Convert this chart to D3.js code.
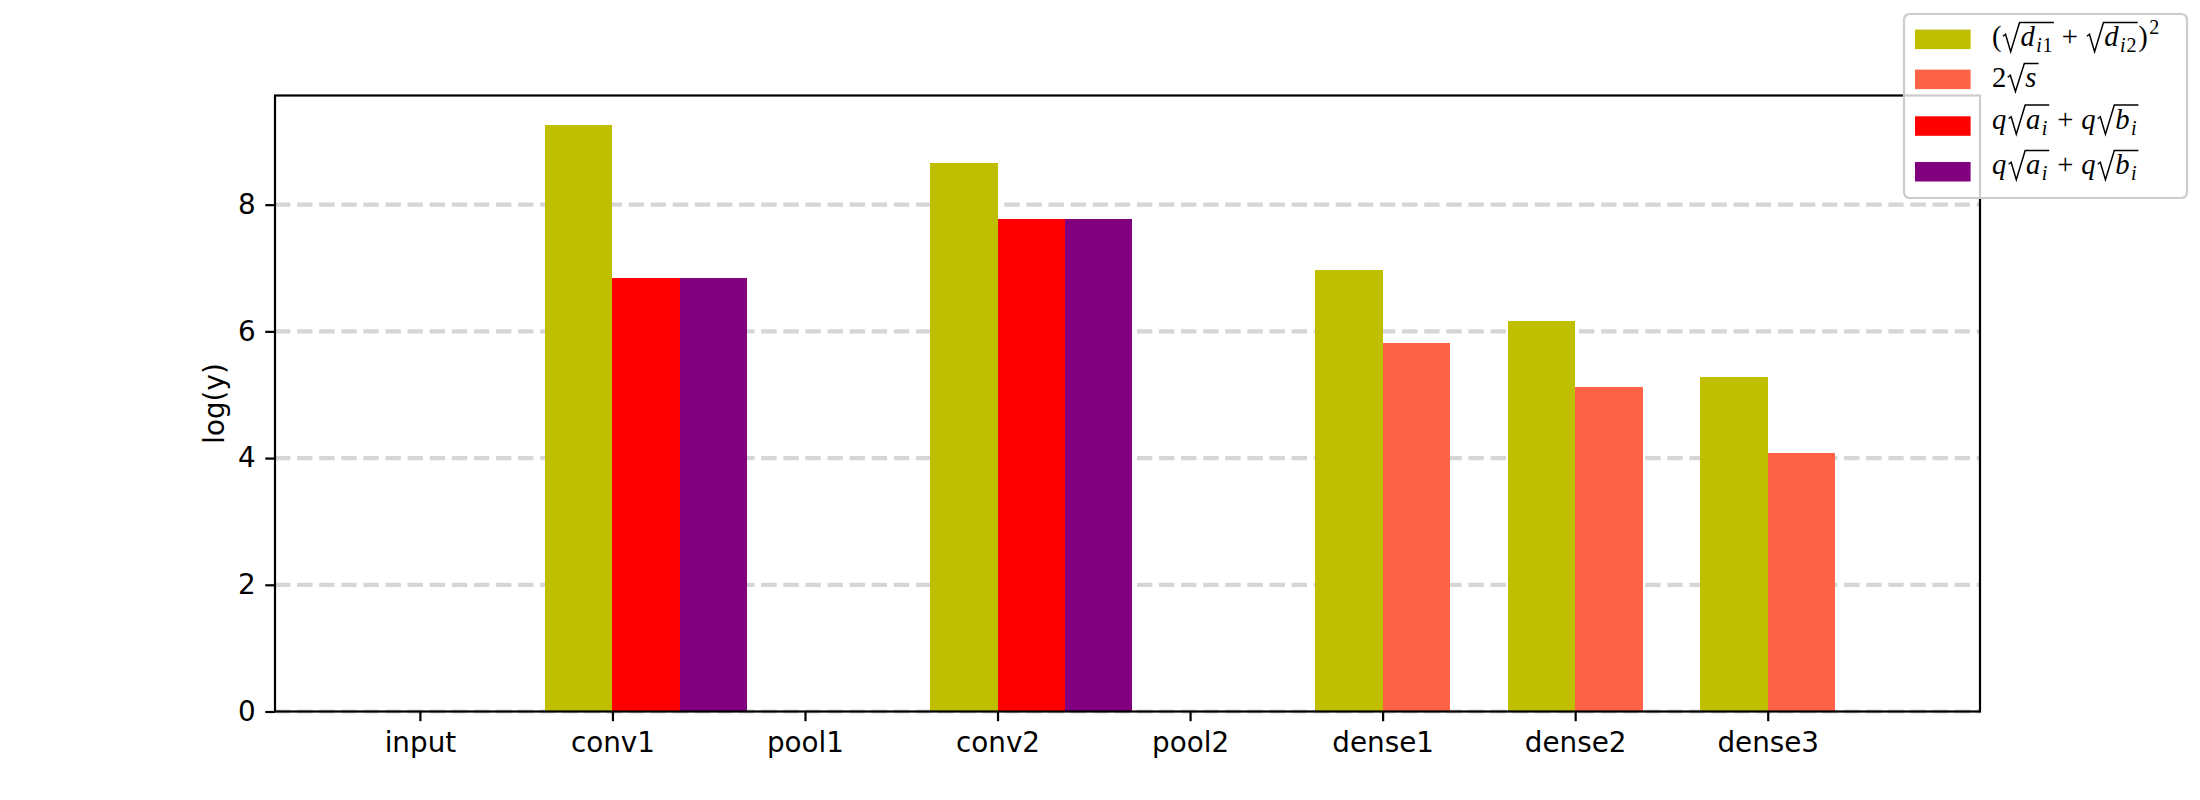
<!DOCTYPE html>
<html>
<head>
<meta charset="utf-8">
<script src="https://cdn.jsdelivr.net/npm/d3@7"></script>
<style>
  html, body { margin: 0; padding: 0; background: #ffffff; }
  svg { display: block; }
</style>
</head>
<body>
<svg id="chart" width="2200" height="800"></svg>
<script>
// ---------------- data ----------------
const categories = ["input", "conv1", "pool1", "conv2", "pool2", "dense1", "dense2", "dense3"];
const seriesSumSqrtD = [0, 9.26, 0, 8.66, 0, 6.97, 6.16, 5.28];   // (sqrt(d_i1)+sqrt(d_i2))^2
const seriesTwoSqrtS = [0, 0, 0, 0, 0, 5.81, 5.12, 4.08];         // 2 sqrt(s)
const seriesQSqrtAB1 = [0, 6.85, 0, 7.77, 0, 0, 0, 0];            // q sqrt(a_i)+q sqrt(b_i)
const seriesQSqrtAB2 = [0, 6.85, 0, 7.77, 0, 0, 0, 0];            // q sqrt(a_i)+q sqrt(b_i)
const yTickValues = [0, 2, 4, 6, 8];
const yAxisLabel = "log(y)";

// ---------------- styles / layout ----------------
const W = 2200, H = 800;
const plotLeft = 275, plotRight = 1980, plotTop = 95.5, plotBottom = 711.5;
const fontSize = 27.8;
const mathSize = 28.6;
const barWidth = 0.35;
const seriesDefs = [
  { values: seriesSumSqrtD, color: "#bfbf00", offset: -barWidth },
  { values: seriesTwoSqrtS, color: "#ff6347", offset: 0 },
  { values: seriesQSqrtAB1, color: "#ff0000", offset: 0 },
  { values: seriesQSqrtAB2, color: "#800080", offset: barWidth }
];

const svg = d3.select("#chart");
svg.append("rect").attr("width", W).attr("height", H).attr("fill", "#ffffff");

// x extent like matplotlib autoscale (5% margins over bar edges)
const xMinData = d3.min(seriesDefs, s => s.offset);
const xMaxData = categories.length - 1 + d3.max(seriesDefs, s => s.offset + barWidth);
const xPad = (xMaxData - xMinData) * 0.05;
const x = d3.scaleLinear().domain([xMinData - xPad, xMaxData + xPad]).range([plotLeft, plotRight]);

const yMaxData = d3.max(seriesDefs, s => d3.max(s.values));
const y = d3.scaleLinear().domain([0, yMaxData * 1.05]).range([plotBottom, plotTop]);

// grid
const grid = svg.append("g");
grid.selectAll("line").data(yTickValues).enter().append("line")
  .attr("x1", plotLeft).attr("x2", plotRight)
  .attr("y1", d => y(d)).attr("y2", d => y(d))
  .attr("stroke", "#d6d6d6").attr("stroke-width", 4.2)
  .attr("stroke-dasharray", "15.4,6.7");

// bars
const barsG = svg.append("g");
seriesDefs.forEach(s => {
  barsG.append("g").selectAll("rect").data(s.values.map((v, i) => ({ i, v })).filter(d => d.v > 0))
    .enter().append("rect")
    .attr("x", d => x(d.i + s.offset))
    .attr("width", d => x(d.i + s.offset + barWidth) - x(d.i + s.offset))
    .attr("y", d => y(d.v))
    .attr("height", d => y(0) - y(d.v))
    .attr("fill", s.color)
    .attr("shape-rendering", "crispEdges");
});

// axes
const xAxis = d3.axisBottom(x)
  .tickValues(d3.range(categories.length))
  .tickFormat(i => categories[i])
  .tickSizeInner(9.7).tickSizeOuter(0).tickPadding(9.7);
const gx = svg.append("g").attr("transform", `translate(0,${plotBottom})`).call(xAxis);
gx.select(".domain").remove();
gx.selectAll(".tick line").attr("stroke", "#000").attr("stroke-width", 2.2);
gx.selectAll(".tick text")
  .attr("fill", "#000")
  .style("font-family", "'DejaVu Sans', sans-serif")
  .style("font-size", fontSize + "px")
  .attr("dy", "0.76em");

const yAxis = d3.axisLeft(y)
  .tickValues(yTickValues)
  .tickFormat(d3.format("d"))
  .tickSizeInner(9.7).tickSizeOuter(0).tickPadding(9.7);
const gy = svg.append("g").attr("transform", `translate(${plotLeft},0)`).call(yAxis);
gy.select(".domain").remove();
gy.selectAll(".tick line").attr("stroke", "#000").attr("stroke-width", 2.2);
gy.selectAll(".tick text")
  .attr("fill", "#000")
  .style("font-family", "'DejaVu Sans', sans-serif")
  .style("font-size", fontSize + "px")
  .attr("dy", "0.32em");

// spines
svg.append("rect")
  .attr("x", plotLeft).attr("y", plotTop)
  .attr("width", plotRight - plotLeft).attr("height", plotBottom - plotTop)
  .attr("fill", "none").attr("stroke", "#000").attr("stroke-width", 2.2);

// y label
svg.append("text")
  .attr("transform", `translate(223.5,${(plotTop + plotBottom) / 2}) rotate(-90)`)
  .attr("text-anchor", "middle")
  .style("font-family", "'DejaVu Sans', sans-serif")
  .style("font-size", fontSize + "px")
  .attr("fill", "#000")
  .text(yAxisLabel);

// ---------------- legend with simple math layout ----------------
const I = t => ({ t, it: true });
const N = t => ({ t, it: false });
const legendLabels = [
  [N("("), { sqrt: [I("d"), { sub: [I("i"), N("1")] }] }, { sp: 0.26 }, N("+"), { sp: 0.26 },
   { sqrt: [I("d"), { sub: [I("i"), N("2")] }] }, N(")"), { sup: [N("2")] }],
  [N("2"), { sqrt: [I("s")] }],
  [I("q"), { sqrt: [I("a"), { sub: [I("i")] }] }, { sp: 0.26 }, N("+"), { sp: 0.26 }, I("q"), { sqrt: [I("b"), { sub: [I("i")] }] }],
  [I("q"), { sqrt: [I("a"), { sub: [I("i")] }] }, { sp: 0.26 }, N("+"), { sp: 0.26 }, I("q"), { sqrt: [I("b"), { sub: [I("i")] }] }]
];
const mathFont = "'Liberation Serif', 'DejaVu Serif', serif";

function layoutMath(g, tokens, x0, base, s) {
  let cx = x0;
  tokens.forEach(tok => {
    if (tok.sqrt) {
      const rw = 0.62 * s;
      const innerEnd = layoutMath(g, tok.sqrt, cx + rw + 0.03 * s, base, s);
      const hasSub = tok.sqrt.some(t => t.sub);
      const top = base - 0.82 * s;
      const bot = base + (hasSub ? 0.2 : 0.16) * s;
      g.append("path")
        .attr("d", `M${cx + 0.04 * s},${base - 0.34 * s} L${cx + 0.13 * s},${base - 0.41 * s} L${cx + 0.31 * s},${bot} L${cx + rw},${top} L${innerEnd + 0.04 * s},${top}`)
        .attr("fill", "none").attr("stroke", "#000").attr("stroke-width", 1.5)
        .attr("stroke-linejoin", "miter");
      cx = innerEnd + 0.06 * s;
    } else if (tok.sub) {
      cx = layoutMath(g, tok.sub, cx + 0.01 * s, base + 0.22 * s, s * 0.7);
    } else if (tok.sup) {
      cx = layoutMath(g, tok.sup, cx + 0.04 * s, base - 0.42 * s, s * 0.7);
    } else if (tok.sp !== undefined) {
      cx += tok.sp * s;
    } else {
      const t = g.append("text")
        .attr("x", cx).attr("y", base)
        .style("font-family", mathFont)
        .style("font-size", s + "px")
        .style("font-style", tok.it ? "italic" : "normal")
        .attr("fill", "#000")
        .text(tok.t);
      cx += t.node().getComputedTextLength() + (tok.it ? 0.04 * s : 0.01 * s);
    }
  });
  return cx;
}

const legendBox = { left: 1904, top: 14, width: 283, height: 184 };
const legendRowCenters = [39.3, 79.3, 126, 171.7];
const legendBaselines = [46, 87, 128.5, 174];
const legend = svg.append("g");
legend.append("rect")
  .attr("x", legendBox.left).attr("y", legendBox.top)
  .attr("width", legendBox.width).attr("height", legendBox.height)
  .attr("rx", 5.6).attr("ry", 5.6)
  .attr("fill", "#ffffff").attr("fill-opacity", 0.8)
  .attr("stroke", "#cccccc").attr("stroke-width", 2.2);
seriesDefs.forEach((s, k) => {
  legend.append("rect")
    .attr("x", legendBox.left + 11).attr("y", legendRowCenters[k] - 9.7)
    .attr("width", 55.6).attr("height", 19.5)
    .attr("fill", s.color);
  layoutMath(legend.append("g"), legendLabels[k], legendBox.left + 88, legendBaselines[k], mathSize);
});
</script>
</body>
</html>
